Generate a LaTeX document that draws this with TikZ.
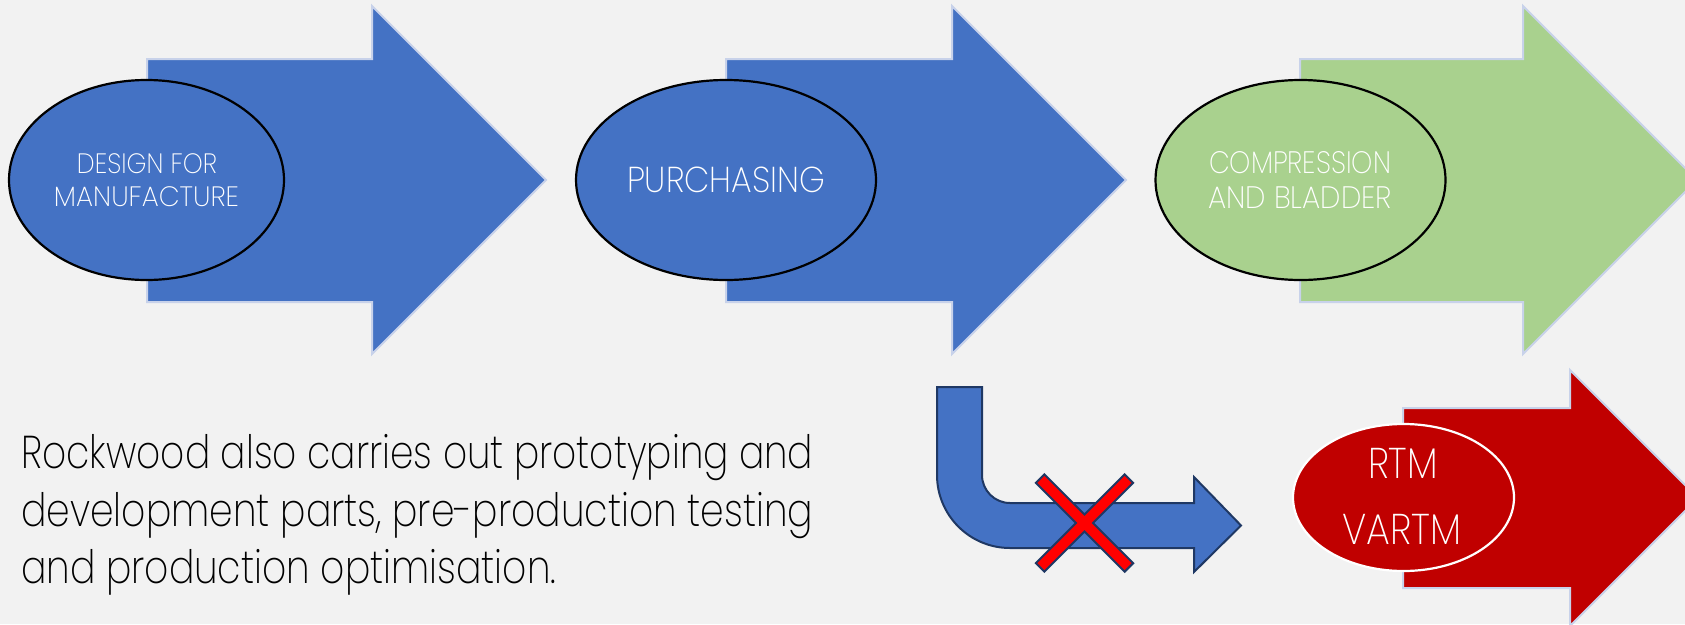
\documentclass[tikz,border=0pt]{standalone}
\usepackage{fontspec}
\usepackage{graphicx}
\setmainfont{Poppins}[UprightFont={* ExtraLight}]
\usetikzlibrary{shapes.geometric}

\definecolor{bg}{HTML}{F2F2F2}
\definecolor{blueA}{HTML}{4472C4}
\definecolor{greenA}{HTML}{A9D18E}
\definecolor{redA}{HTML}{C00000}
\definecolor{edgeA}{HTML}{C8D2EA}
\definecolor{navy}{HTML}{1F3864}
\definecolor{crossred}{HTML}{FF0000}

% stretch a label horizontally to a given width, keeping its height
\newcommand\fitw[2]{\resizebox{#1}{\height}{#2}}

\tikzset{
  bigarrow/.style={draw=edgeA, line width=2pt, line join=miter},
  stage/.style={ellipse, draw=black, line width=2.2pt, inner sep=0pt},
  lbl/.style={anchor=base, inner sep=0pt, text=white},
  bodytxt/.style={anchor=base west, inner sep=0pt, text=black,
                  font=\fontsize{46}{57}\selectfont},
  bent/.style={fill=blueA, draw=navy, line width=2pt, line join=miter},
}

\begin{document}
\begin{tikzpicture}[x=1pt, y=-1pt]
\fill[bg] (0,0) rectangle (1685,624);
\useasboundingbox (0,0) rectangle (1685,624);
\clip (0,0) rectangle (1685,624);

% stage 1
\draw[bigarrow, fill=blueA] (147,59) -- (372,59) -- (372,6) -- (546,180)
  -- (372,354) -- (372,302) -- (147,302) -- cycle;
\node[stage, fill=blueA, minimum width=275pt, minimum height=200pt] (dfm) at (146.5,180) {};
\node[lbl, font=\fontsize{28}{33}\selectfont] (dfm1) at (147,173) {\fitw{140pt}{DESIGN FOR}};
\node[lbl, font=\fontsize{28}{33}\selectfont] (dfm2) at (146.5,206) {\fitw{185pt}{MANUFACTURE}};

% stage 2
\draw[bigarrow, fill=blueA] (726,59) -- (952,59) -- (952,6) -- (1126,180)
  -- (952,354) -- (952,302) -- (726,302) -- cycle;
\node[stage, fill=blueA, minimum width=300pt, minimum height=200pt] (pur) at (726,180) {};
\node[lbl, font=\fontsize{36}{40}\selectfont] (pur1) at (726,192) {\fitw{198pt}{PURCHASING}};

% stage 3
\draw[bigarrow, fill=greenA] (1300,59) -- (1523,59) -- (1523,6) -- (1697,180)
  -- (1523,354) -- (1523,302) -- (1300,302) -- cycle;
\node[stage, fill=greenA, minimum width=290pt, minimum height=200pt] (cmp) at (1300.5,180) {};
\node[lbl, font=\fontsize{31}{35}\selectfont] (cmp1) at (1300,173) {\fitw{182pt}{COMPRESSION}};
\node[lbl, font=\fontsize{31}{35}\selectfont] (cmp2) at (1300,208) {\fitw{184pt}{AND BLADDER}};

% bent arrow, crossed out
\draw[bent] (937,387) -- (937,475) arc[start angle=180, end angle=90, radius=73]
  -- (1194,548) -- (1194,572) -- (1241,525.5) -- (1194,477) -- (1194,503)
  -- (1010,503) arc[start angle=90, end angle=180, radius=28]
  -- (982,387) -- cycle;
\begin{scope}[shift={(1084.5,523)}, rotate=45]
  \draw[fill=crossred, draw=navy, line width=2pt, line join=miter]
    (62.8,6) -- (6,6) -- (6,62.8) -- (-6,62.8) -- (-6,6) -- (-62.8,6)
    -- (-62.8,-6) -- (-6,-6) -- (-6,-62.8) -- (6,-62.8) -- (6,-6)
    -- (62.8,-6) -- cycle;
\end{scope}

% stage 4
\draw[bigarrow, fill=redA] (1403,408) -- (1570,408) -- (1570,370) -- (1698,498)
  -- (1570,626) -- (1570,588) -- (1403,588) -- cycle;
\node[stage, fill=redA, draw=white, minimum width=221pt, minimum height=147pt] (rtm) at (1403.5,497.5) {};
\node[lbl, font=\fontsize{43}{48}\selectfont] (rtm1) at (1403,478) {\fitw{70pt}{RTM}};
\node[lbl, font=\fontsize{43}{48}\selectfont] (rtm2) at (1402,544) {\fitw{119pt}{VARTM}};

% note
\node[bodytxt] (note1) at (21,468) {\fitw{792pt}{Rockwood also carries out prototyping and}};
\node[bodytxt] (note2) at (21,526) {\fitw{792pt}{development parts, pre-production testing}};
\node[bodytxt] (note3) at (21,583) {\fitw{535pt}{and production optimisation.}};
\end{tikzpicture}
\end{document}
